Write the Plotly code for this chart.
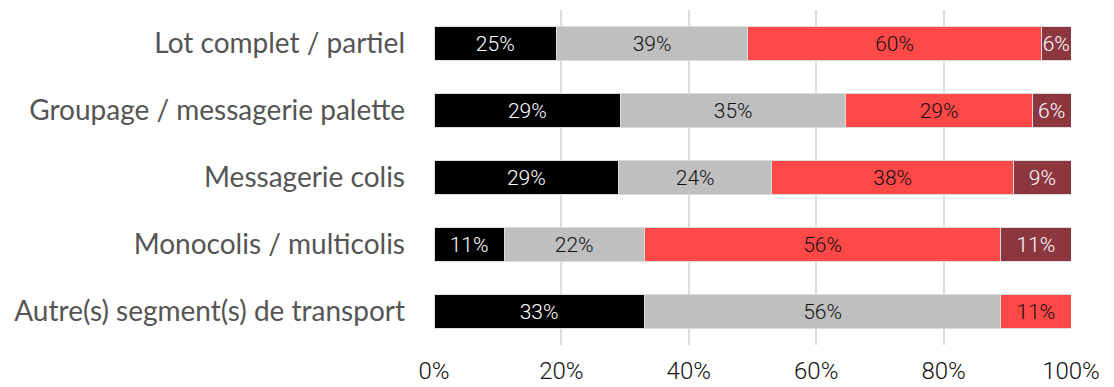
import plotly.graph_objects as go

categories = [
    "Lot complet / partiel",
    "Groupage / messagerie palette",
    "Messagerie colis",
    "Monocolis / multicolis",
    "Autre(s) segment(s) de transport",
]
series_names = ["Réponse 1", "Réponse 2", "Réponse 3", "Réponse 4"]
values_1 = [25, 29, 29, 11, 33]
values_2 = [39, 35, 24, 22, 56]
values_3 = [60, 29, 38, 56, 11]
values_4 = [6, 6, 9, 11, None]
tick_values = [0, 20, 40, 60, 80, 100]
tick_labels = ["0%", "20%", "40%", "60%", "80%", "100%"]

series = [values_1, values_2, values_3, values_4]
fills = ["#000000", "#bfbfbf", "#ff4848", "#8c3640"]
label_colors = ["#ffffff", "#111111", "#111111", "#ffffff"]

fig = go.Figure()
for name, vals, fill, lc in zip(series_names, series, fills, label_colors):
    fig.add_trace(go.Bar(
        name=name,
        y=categories,
        x=vals,
        orientation="h",
        marker=dict(color=fill, line=dict(color="#dcdcdc", width=1)),
        text=[f"{v}%" if v is not None else "" for v in vals],
        texttemplate="%{text}",
        textposition="inside",
        insidetextanchor="middle",
        textangle=0,
        constraintext="none",
        textfont=dict(family="Roboto", size=21, color=lc, weight=300),
        hoverinfo="skip",
        showlegend=False,
    ))

fig.update_layout(
    barmode="stack",
    barnorm="percent",
    bargap=0.5,
    width=1114,
    height=387,
    margin=dict(l=434, r=43, t=10, b=42),
    paper_bgcolor="white",
    plot_bgcolor="white",
    uniformtext=dict(minsize=21, mode="show"),
    xaxis=dict(
        range=[0, 100],
        tickvals=tick_values,
        ticktext=tick_labels,
        showgrid=True,
        gridcolor="#dcdcdc",
        gridwidth=2,
        zeroline=False,
        showline=False,
        tickfont=dict(family="Roboto", size=24, color="#111111", weight=300),
        ticks="",
        ticklabelstandoff=9,
        automargin=False,
    ),
    yaxis=dict(
        autorange="reversed",
        showgrid=False,
        zeroline=False,
        showline=False,
        ticks="",
        ticklabelstandoff=28,
        tickfont=dict(family="Lato", size=28, color="#555555"),
        automargin=False,
    ),
)

fig.write_html("out.html")
